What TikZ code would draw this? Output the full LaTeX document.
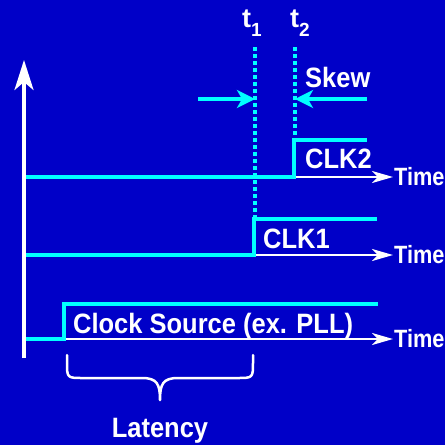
\documentclass[tikz,border=0pt]{standalone}
\usepackage{fontspec}
\setmainfont{Liberation Sans}
\usepackage{graphicx}
\usetikzlibrary{arrows.meta}
\definecolor{bg}{RGB}{0,0,200}
\definecolor{cy}{RGB}{0,255,255}
\newcommand\narrow[1]{\scalebox{0.91}[1]{#1}}
\begin{document}
\begin{tikzpicture}[x=1pt,y=-1pt,
  lbl/.style={text=white,font=\bfseries\fontsize{28}{28}\selectfont,inner sep=0pt,anchor=base west},
  timelbl/.style={text=white,font=\bfseries\fontsize{25}{25}\selectfont,inner sep=0pt,anchor=base west},
  tlbl/.style={text=white,font=\bfseries\fontsize{27}{27}\selectfont,inner sep=0pt,anchor=base west},
  wave/.style={draw=cy,line width=4pt,line join=miter},
  timeaxis/.style={draw=white,line width=2.5pt,-{Stealth[length=21pt,width=12pt,inset=6pt]}},
  yaxis/.style={draw=white,line width=3.5pt,-{Stealth[length=30pt,width=19pt,inset=8pt]}},
  marker/.style={draw=cy,line width=4pt,dash pattern=on 3.5pt off 3.5pt},
  skewarrow/.style={draw=cy,line width=3.5pt,-{Stealth[length=18pt,width=18pt,inset=5pt]}},
  bracestyle/.style={draw=white,line width=2.5pt,line cap=round,line join=round}]
\useasboundingbox (0,0) rectangle (445,445);
\fill[bg] (0,0) rectangle (445,445);

% coordinates
\coordinate (yb) at (24,358);
\coordinate (yt) at (24,60);
\coordinate (a2s) at (24,177);  \coordinate (a2e) at (393,177);
\coordinate (a1s) at (24,255);  \coordinate (a1e) at (393,255);
\coordinate (a0s) at (24,339);  \coordinate (a0e) at (393,339);

% time axes
\draw[timeaxis] (a2s) -- (a2e);
\draw[timeaxis] (a1s) -- (a1e);
\draw[timeaxis] (a0s) -- (a0e);
\node[timelbl] (time2) at (394,185) {\scalebox{0.87}[1]{Time}};
\node[timelbl] (time1) at (394,263) {\scalebox{0.87}[1]{Time}};
\node[timelbl] (time0) at (394,347) {\scalebox{0.87}[1]{Time}};

% vertical axis
\draw[yaxis] (yb) -- (yt);

% marker lines
\coordinate (m1t) at (255,47); \coordinate (m1b) at (255,219);
\coordinate (m2t) at (295,47); \coordinate (m2b) at (295,140);
\draw[marker] (m1t) -- (m1b);
\draw[marker] (m2t) -- (m2b);
\node[tlbl] (t1) at (242,27) {t\raisebox{-9pt}{\fontsize{19}{19}\selectfont 1}};
\node[tlbl] (t2) at (290,27) {t\raisebox{-9pt}{\fontsize{19}{19}\selectfont 2}};

% waveforms
\draw[wave] (26,177) -- (294,177) -- (294,140) -- (367,140);
\draw[wave] (26,255) -- (254,255) -- (254,219) -- (377,219);
\draw[wave] (26,339) -- (64,339) -- (64,304) -- (378,304);

\node[lbl] (clk2) at (305,168) {\narrow{CLK2}};
\node[lbl] (clk1) at (263,248) {\narrow{CLK1}};
\node[lbl] (src) at (73,333) {\narrow{Clock Source (ex. PLL)}};

% skew
\coordinate (sl) at (198,99); \coordinate (sr) at (367,99);
\draw[skewarrow] (sl) -- (m1t |- sl);
\draw[skewarrow] (sr) -- (m2t |- sr);
\node[lbl] (skew) at (305,87) {\narrow{Skew}};

% latency brace
\draw[bracestyle] (67,355) -- (67,362) .. controls (67,378) .. (83,378) -- (142,378)
  .. controls (157,378) and (160,384) .. (160,400)
  .. controls (160,384) and (163,378) .. (178,378) -- (237,378)
  .. controls (253,378) .. (253,362) -- (253,355);
\node[lbl,anchor=base] (lat) at (160,437) {\narrow{Latency}};
\end{tikzpicture}
\end{document}
